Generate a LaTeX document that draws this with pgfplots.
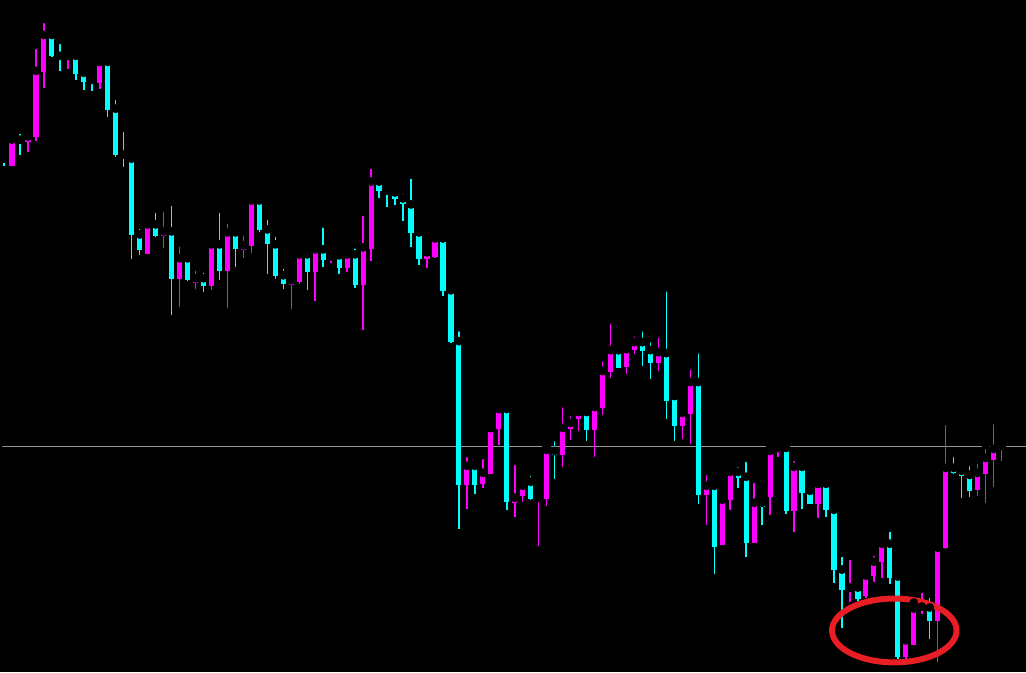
\documentclass[border=0pt]{standalone}
\usepackage{pgfplots}
\usepackage{pgfplotstable}
\pgfplotsset{compat=1.18}
\usetikzlibrary{backgrounds}
\definecolor{upc}{RGB}{255,0,255}
\definecolor{dnc}{RGB}{0,255,255}
\definecolor{linec}{RGB}{150,150,150}
\definecolor{ringc}{RGB}{232,30,36}

% candles in screen units: k = bar index, values = pixel rows (down is larger)
\pgfplotstableread{
k hi top bot lo
0 151 159 161.7 166.7
2 130 140 142.7 155
6 34 35 55.7 56.7
7 40 56 57.7 71
9 52 56 73.7 79.7
10 71 73 81.7 90.7
11 80 80 81.7 91.7
13 58 62 110.7 117.7
14 96 109 155.7 157.7
15 128 155 158.7 167.7
16 157 159 235.7 259.7
17 225 235 250.7 255.7
19 209 225 236.7 237.7
21 202 232 279.7 316
23 252 259 280.7 281.7
25 269 279 286.7 292.7
27 209 245 271.7 280.7
29 231 233 249.7 267.7
32 193 201 230.7 232.7
33 216 230 244.7 274.7
34 233 245 276.7 279.7
35 265 276 284.7 289.7
38 251 255 272.7 290.7
40 224 250 260.7 267.7
42 251 256 268.7 274.7
44 245 255 285.7 288.7
47 176 182 191.7 198.7
48 187.7 191 193.7 207.7
49 187.7 193 199.7 205.7
50 190 199 204.7 221.7
51 175 205 233.7 247.7
52 225 233 259.7 265.7
55 237 239 291.7 296.7
56 288 291 342.7 343.7
57 328 342 485.7 530.7
59 464 467 485.7 494.7
63 404 410 503.7 511.7
66 473 483 500.7 501.7
69 438 452 455.7 479.7
73 410 413 430.7 441.7
77 351 351 368.7 368.7
80 328 343 351.7 366.7
81 339 351 363.7 379.7
83 288 354 401.7 419.7
84 391 397 426.7 441.7
87 350 383 496.7 505.7
89 486 487 548.7 575.7
92 464 473 478.7 488.7
93 459 478 544.7 558.7
95 503 504 508.7 526.7
98 441 449 512.7 515.7
100 463 468 493.7 510.7
101 490 492 505.7 505.7
103 477 485 511.7 518.7
104 510 511 571.7 584.7
105 554 571 591.7 629.7
107 588 589 600.7 602.7
111 529 545 579 585.7
112 573 578 658.7 660.7
116 595 609 622.7 640.7
119 454 469 473.7 474.7
120 464 472 476.7 499.7
121 463 476 491.7 498.7
}\down

\pgfplotstableread{
k hi top bot lo
1 139.3 140 166.7 166.7
3 132 137 142.7 152.7
4 45 71 137.7 141.7
5 19 35 71.7 88.7
8 53 56 57.7 68.7
12 58 62 83.7 89.7
18 221 225 254.7 254.7
20 208 232 236.7 248.7
22 243 259 279.7 307.7
24 267 279 283.7 289.7
26 239 245 286.7 290.7
28 220 233 271.7 308.7
30 232 246 250.7 258.7
31 193 201 246.7 253.7
36 273 281 285.7 309.7
37 253 255 282.7 284.7
39 247 250 272.7 301.7
41 251 257 260.7 263.7
43 253 255 268.7 272.7
45 212 248 285.7 330.7
46 165 182 249.7 261.7
53 247 253 259.7 268.7
54 237 239 257.7 258.7
58 454 467 485.7 510.7
60 456 474 484.7 488.7
61 429 429 474.7 474.7
62 402 410 429.7 445.7
64 462 499 504.7 518.7
65 478 487 497.7 503.7
67 491 499 500.7 547.7
68 448 451 500.7 507.7
70 404 429 455.7 467.7
71 413 424 429.7 440.7
72 412 413 419.7 431.7
74 404 408 430.7 457.7
75 358 372 408.7 415.7
76 320 351 372.7 378.7
78 347 350 367.7 374.7
79 333 343 350.7 354.7
82 334 353 363.7 371.7
85 406 414 426.7 439.7
86 366 383 414.7 444.7
88 472 487 496.7 526.7
90 499 501 546.7 546.7
91 472 473 501.7 511.7
94 480 504 544.7 544.7
96 447 452 498.7 516.7
97 441 449 452.7 457.7
99 458 468 512.7 533.7
102 485 485 505.7 519.7
106 557 589 592.7 603
108 574 577 597.7 599.7
109 553 563 577 583
110 542 545 563.7 579.7
113 637 642 658.7 660.7
114 604 610 646.7 646.7
115 590 608 611 615.7
117 544 549 622.7 663.3
118 422 469 549.7 550.7
122 461 474 490.7 497.7
123 446 459 474.7 504.7
124 421 450 460.7 487.7
125 444 447 450.7 461.7
}\up

\pgfplotsset{
  wick/.style={only marks, mark=none, forget plot,
    error bars/.cd, y dir=plus, y explicit, error mark=none,
    error bar style={draw=#1, line width=0.75pt}},
  body/.style={only marks, mark=none, forget plot,
    error bars/.cd, y dir=plus, y explicit, error mark=none,
    error bar style={draw=#1, line width=2.6pt}},
}

\begin{document}
\begin{tikzpicture}[show background rectangle,
  background rectangle/.style={fill=black, draw=none}, inner frame sep=0pt]
\begin{axis}[
    width=513pt, height=337pt,
    scale only axis,
    xmin=-0.1875, xmax=128.0625,
    ymin=0, ymax=674,
    y dir=reverse,
    ticks=none,
    axis line style={draw=none},
    axis background/.style={fill=black},
    clip=true,
  ]
\addplot[linec, line width=0.55pt, forget plot] coordinates {(-1,447.3) (129,447.3)};

\addplot[wick=dnc] table[x=k, y=hi,
  y error expr=\thisrow{lo}-\thisrow{hi}] {\down};
\addplot[body=dnc] table[x=k, y=top,
  y error expr={max(\thisrow{bot}-\thisrow{top},1.6)}] {\down};

\addplot[wick=upc] table[x=k, y=hi,
  y error expr=\thisrow{lo}-\thisrow{hi}] {\up};
\addplot[body=upc] table[x=k, y=top,
  y error expr={max(\thisrow{bot}-\thisrow{top},1.6)}] {\up};

% red ring round the low
\draw[ringc, line width=3pt] (axis cs:111.56,632) ellipse [x radius=7.8, y radius=32];
\end{axis}
\end{tikzpicture}
\end{document}
